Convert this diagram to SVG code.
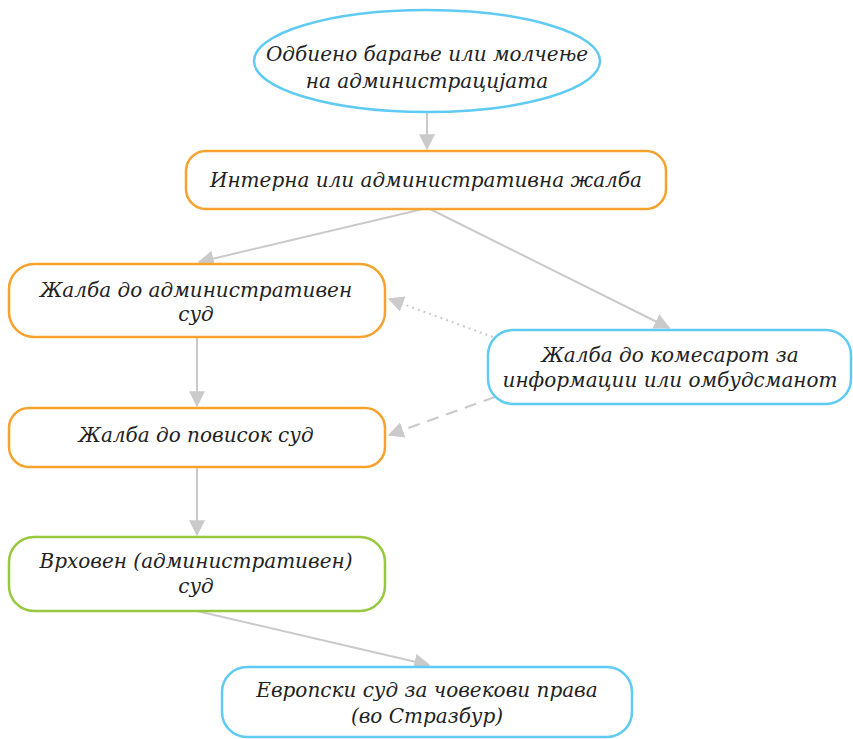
<svg xmlns="http://www.w3.org/2000/svg" width="853" height="739" viewBox="0 0 853 739">
<style>
.n{fill:#fff;stroke-width:2.5}
.o{stroke:#f6a22c}.b{stroke:#5fcbf2}.g{stroke:#98c83d}
.t{font-family:"DejaVu Serif","Liberation Serif",serif;font-style:italic;font-size:20px;fill:#222;text-anchor:middle}
.c{stroke:#cacaca;stroke-width:2;fill:none}
</style>
<defs>
<marker id="a" viewBox="0 0 12 12" refX="11" refY="6" markerWidth="16" markerHeight="16" markerUnits="userSpaceOnUse" orient="auto">
<path d="M0,0 L12,6 L0,12 z" fill="#cacaca"/>
</marker>
</defs>
<g id="connectors">
<path class="c" d="M427,113 L427,149" marker-end="url(#a)"/>
<path class="c" d="M423,209 L199,262" marker-end="url(#a)"/>
<path class="c" d="M430,209 L669,328" marker-end="url(#a)"/>
<path class="c" d="M493,337 L389,299" stroke-dasharray="2,4" marker-end="url(#a)"/>
<path class="c" d="M495,397 L389,435" stroke-dasharray="12,8" marker-end="url(#a)"/>
<path class="c" d="M197,337 L197,406" marker-end="url(#a)"/>
<path class="c" d="M197,467 L197,535" marker-end="url(#a)"/>
<path class="c" d="M197,611 L429,665" marker-end="url(#a)"/>
</g>
<g id="n1"><ellipse class="n b" cx="427" cy="61" rx="173" ry="51"/>
<text class="t" x="427" y="61">Одбиено барање или молчење</text>
<text class="t" x="427" y="88">на администрацијата</text></g>
<g id="n2"><rect class="n o" x="186" y="151" width="480" height="58" rx="20"/>
<text class="t" x="426" y="187">Интерна или административна жалба</text></g>
<g id="n3"><rect class="n o" x="9" y="264" width="376" height="73" rx="25"/>
<text class="t" x="196" y="297">Жалба до административен</text>
<text class="t" x="196" y="321">суд</text></g>
<g id="n4"><rect class="n b" x="488" y="330" width="363" height="74" rx="25"/>
<text class="t" x="670" y="362">Жалба до комесарот за</text>
<text class="t" x="670" y="387">информации или омбудсманот</text></g>
<g id="n5"><rect class="n o" x="9" y="408" width="376" height="59" rx="20"/>
<text class="t" x="196" y="442">Жалба до повисок суд</text></g>
<g id="n6"><rect class="n g" x="9" y="537" width="376" height="74" rx="25"/>
<text class="t" x="196" y="568">Врховен (административен)</text>
<text class="t" x="196" y="593">суд</text></g>
<g id="n7"><rect class="n b" x="222" y="667" width="410" height="70" rx="25"/>
<text class="t" x="427" y="697">Европски суд за човекови права</text>
<text class="t" x="427" y="723">(во Стразбур)</text></g>
</svg>
